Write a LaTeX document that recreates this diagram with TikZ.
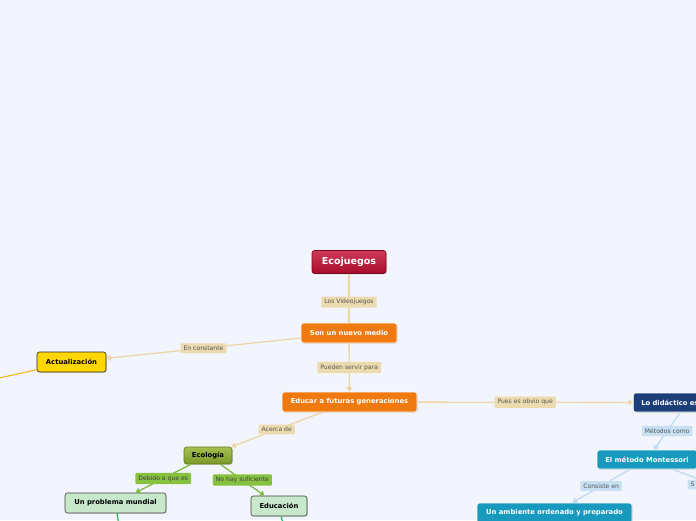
\documentclass[tikz,border=0pt]{standalone}
\usepackage{fontspec}
\setmainfont{DejaVu Sans}
\usetikzlibrary{shadows,arrows.meta}

\definecolor{fondo}{RGB}{242,245,253}
\definecolor{rojoA}{RGB}{206,58,88}
\definecolor{rojoB}{RGB}{168,12,44}
\definecolor{naranja}{RGB}{240,122,16}
\definecolor{amarillo}{RGB}{255,214,0}
\definecolor{azulosc}{RGB}{28,63,122}
\definecolor{turquesa}{RGB}{24,153,190}
\definecolor{verdeA}{RGB}{166,192,80}
\definecolor{verdeB}{RGB}{122,152,40}
\definecolor{verdeclaro}{RGB}{200,232,203}
\definecolor{beige}{RGB}{236,214,168}
\definecolor{beigelbl}{RGB}{237,219,176}
\definecolor{celeste}{RGB}{190,219,240}
\definecolor{celestelbl}{RGB}{200,224,243}
\definecolor{verdelinea}{RGB}{128,188,66}
\definecolor{verdelbl}{RGB}{134,194,64}
\definecolor{verdevivo}{RGB}{30,176,70}
\definecolor{naranjalinea}{RGB}{246,180,36}
\definecolor{textolbl}{RGB}{85,85,85}

\tikzset{
  caja/.style={rounded corners=2.5pt, inner sep=0pt, line width=0.6pt,
    font=\bfseries\fontsize{6.8}{8}\selectfont,
    drop shadow={opacity=0.25,shadow xshift=0.8pt,shadow yshift=-0.8pt}},
  cajanaranja/.style={caja, fill=naranja, draw=white, text=white},
  cajaazul/.style={caja, fill=azulosc, draw=white, text=white},
  cajaturq/.style={caja, fill=turquesa, draw=white, text=white},
  cajaverde/.style={caja, fill=verdeclaro, draw=black!75, text=black},
  etiqueta/.style={fill=#1, text=textolbl, font=\fontsize{6.1}{7}\selectfont,
    inner xsep=3pt, inner ysep=2.6pt, rounded corners=1pt},
  linbeige/.style={draw=beige, line width=1.3pt},
  lincel/.style={draw=celeste, line width=1.3pt},
  linverde/.style={draw=verdelinea, line width=1.3pt},
  punta/.style={-{Triangle[width=6pt,length=4.5pt]}}
}

\begin{document}
\begin{tikzpicture}[x=1pt,y=-1pt]
  \useasboundingbox (0,0) rectangle (696,520);
  \fill[fondo] (0,0) rectangle (696,520);
  \clip (0,0) rectangle (696,520);

  % nodos
  \node[caja, top color=rojoA, bottom color=rojoB, draw=rojoB!70!black, text=white,
    font=\bfseries\fontsize{9.5}{11}\selectfont, minimum width=74pt, minimum height=23pt]
    (eco) at (349,262) {Ecojuegos};
  \node[cajanaranja, minimum width=96pt, minimum height=20pt] (son) at (349,333) {Son un nuevo medio};
  \node[cajanaranja, minimum width=135pt, minimum height=20pt] (educar) at (349.5,402) {Educar a futuras generaciones};
  \node[caja, fill=amarillo, draw=black!85, text=black, minimum width=69pt, minimum height=20pt]
    (act) at (71.5,362) {Actualización};
  \node[cajaazul, anchor=west, minimum width=108pt, minimum height=19pt, text width=92pt, align=left]
    (dida) at (633,402.5) {Lo didáctico es};
  \node[cajaturq, minimum width=100pt, minimum height=19pt] (mont) at (647,459.5) {El método Montessori};
  \node[cajaturq, minimum width=155pt, minimum height=20pt] (amb) at (554.5,513) {Un ambiente ordenado y preparado};
  \node[caja, top color=verdeA, bottom color=verdeB, draw=verdeB!80!black, text=black,
    minimum width=48pt, minimum height=17pt] (ecol) at (208,455.5) {Ecología};
  \node[cajaverde, minimum width=101pt, minimum height=20pt] (mund) at (115.5,503) {Un problema mundial};
  \node[cajaverde, minimum width=56pt, minimum height=20pt] (educa) at (279,506) {Educación};

  % extremos fuera del cuadro
  \coordinate (fueraA) at (-100,400);
  \coordinate (fueraS) at (779,509.5);
  \coordinate (fueraM) at (124,560);
  \coordinate (fueraE) at (291,560);

  % conectores
  \draw[linbeige] (eco) -- node[etiqueta=beigelbl, pos=0.58] {Los Videojuegos} (son);
  \draw[linbeige, punta] (son) -- node[etiqueta=beigelbl] {Pueden servir para} (educar);
  \draw[linbeige, punta] (son) -- node[etiqueta=beigelbl] {En constante} (act);
  \draw[linbeige, punta] (educar) -- node[etiqueta=beigelbl] {Pues es obvio que} (dida);
  \draw[linbeige, punta] (educar) -- node[etiqueta=beigelbl] {Acerca de} (ecol);
  \draw[naranjalinea, line width=1.1pt] (act) -- (fueraA);
  \draw[lincel, punta] (dida) -- node[etiqueta=celestelbl] {Métodos como} (mont);
  \draw[lincel, punta] (mont) -- node[etiqueta=celestelbl] {Consiste en} (amb);
  \draw[lincel] (mont) -- node[etiqueta=celestelbl, pos=0.38, text width=45pt, align=left] {S} (fueraS);
  \draw[linverde, punta] (ecol) -- node[etiqueta=verdelbl, text=black!75] {Debido a que es} (mund);
  \draw[linverde, punta] (ecol) -- node[etiqueta=verdelbl, text=black!75] {No hay suficiente} (educa);
  \draw[verdevivo, line width=1.1pt] (mund) -- (fueraM);
  \draw[verdevivo, line width=1.1pt] (educa) -- (fueraE);
\end{tikzpicture}
\end{document}
